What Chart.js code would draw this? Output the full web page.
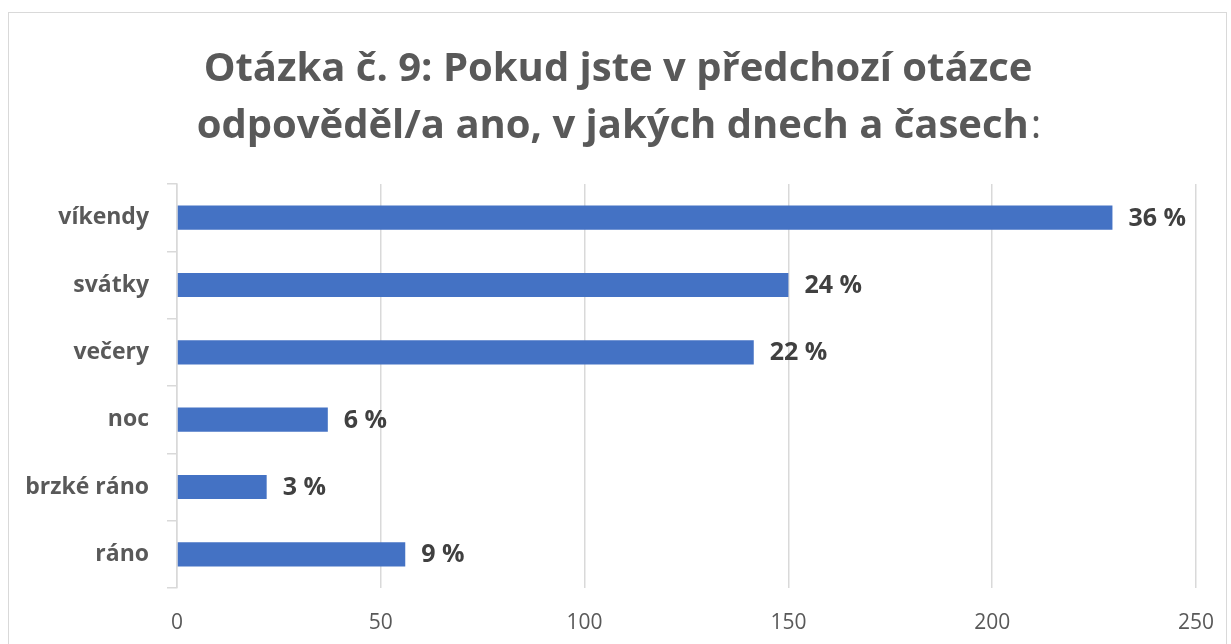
<!DOCTYPE html>
<html>
<head>
<meta charset="utf-8">
<script src="https://cdn.jsdelivr.net/npm/chart.js@4.4.1/dist/chart.umd.min.js"></script>
<style>
  html, body { margin: 0; padding: 0; background: #fff; overflow: hidden; }
  #frame {
    position: absolute; left: 8px; top: 12px; width: 1219px; height: 640px;
    border: 1px solid #d9d9d9; box-sizing: border-box;
  }
  #wrap { position: absolute; left: 0; top: 0; width: 1231px; height: 644px; }
</style>
</head>
<body>
<div id="frame"></div>
<div id="wrap"><canvas id="chart-bar"></canvas></div>
<script>
const categories = ['víkendy', 'svátky', 'večery', 'noc', 'brzké ráno', 'ráno'];
const counts = [229.5, 150, 141.5, 37, 22, 56];
const percentLabels = ['36 %', '24 %', '22 %', '6 %', '3 %', '9 %'];
const titleLines = ['Otázka č. 9: Pokud jste v předchozí otázce', 'odpověděl/a ano, v jakých dnech a časech'];
const titleTail = ':';

const FONT = "'Open Sans', sans-serif";

// title drawn by hand so the trailing colon can stay regular weight
const titlePlugin = {
  id: 'mixedTitle',
  afterDraw(chart) {
    const ctx = chart.ctx;
    const cx = 618;
    ctx.save();
    ctx.fillStyle = '#595959';
    ctx.textBaseline = 'alphabetic';
    ctx.textAlign = 'left';
    const size = 40;
    const bold = `bold ${size}px ${FONT}`;
    const normal = `${size}px ${FONT}`;
    // line 1
    ctx.font = bold;
    let w = ctx.measureText(titleLines[0]).width;
    ctx.fillText(titleLines[0], cx - w / 2, 81);
    // line 2 + regular colon
    ctx.font = bold;
    const w2 = ctx.measureText(titleLines[1]).width;
    ctx.font = normal;
    const w3 = ctx.measureText(titleTail).width;
    let x = cx - (w2 + w3) / 2;
    ctx.font = bold;
    ctx.fillText(titleLines[1], x, 138);
    ctx.font = normal;
    ctx.fillText(titleTail, x + w2 + 2, 138);
    ctx.restore();
  }
};

// percent labels to the right of every bar
const valueLabels = {
  id: 'valueLabels',
  afterDatasetsDraw(chart) {
    const ctx = chart.ctx;
    const meta = chart.getDatasetMeta(0);
    ctx.save();
    ctx.font = `bold 25px ${FONT}`;
    ctx.fillStyle = '#404040';
    ctx.textAlign = 'left';
    ctx.textBaseline = 'middle';
    meta.data.forEach((bar, i) => {
      ctx.fillText(percentLabels[i], bar.x + 16, bar.y + 1);
    });
    ctx.restore();
  }
};

const ctx1 = document.getElementById('chart-bar').getContext('2d');

window.myChart = new Chart(ctx1, {
  type: 'bar',
  data: {
    labels: categories,
    datasets: [
      {
        label: 'Počet',
        data: counts,
        backgroundColor: '#4472c4',
        borderWidth: 0,
        barPercentage: 0.36,
        categoryPercentage: 1.0,
      },
    ],
  },
  options: {
    indexAxis: 'y',
    responsive: true,
    maintainAspectRatio: false,
    animation: false,
    layout: {
      padding: { top: 184, right: 35, bottom: 0, left: 0 },
    },
    plugins: {
      legend: { display: false },
      title: { display: false },
      tooltip: { enabled: false },
    },
    scales: {
      x: {
        min: 0,
        max: 250,
        ticks: {
          stepSize: 50,
          color: '#595959',
          padding: 12,
          font: { size: 21, family: FONT },
        },
        grid: {
          display: true,
          drawOnChartArea: true,
          drawTicks: true,
          tickLength: 10,
          tickColor: 'rgba(0,0,0,0)',
          color: '#d9d9d9',
          lineWidth: 1.5,
        },
        border: { display: false },
        afterFit(scale) { scale.height = 56; },
      },
      y: {
        ticks: {
          color: '#595959',
          padding: 18,
          font: { size: 23, weight: 'bold', family: FONT },
        },
        grid: {
          offset: true,
          drawOnChartArea: false,
          drawTicks: true,
          tickLength: 10,
          color: '#d9d9d9',
          lineWidth: 1.5,
        },
        border: { display: true, color: '#d9d9d9', width: 1.5 },
        afterFit(scale) { scale.width = 177; },
      },
    },
  },
  plugins: [titlePlugin, valueLabels],
});
</script>
</body>
</html>
